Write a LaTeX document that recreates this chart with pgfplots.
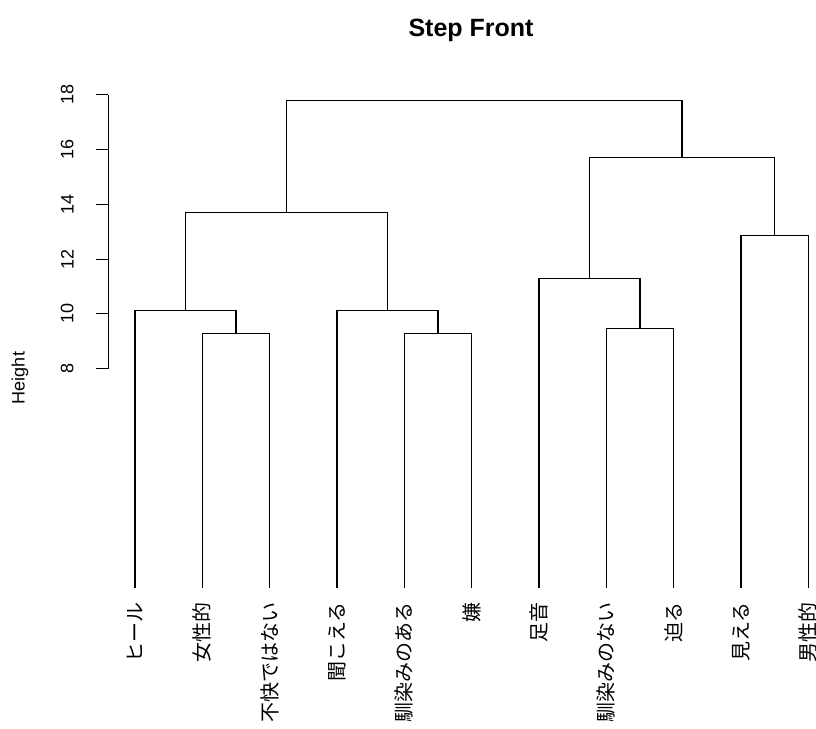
\documentclass[border=0pt]{standalone}
\usepackage{pgfplots}
\pgfplotsset{compat=1.18}
\usepackage{fontspec}
\setmainfont{Liberation Sans}
\newfontfamily\cjk{Noto Sans CJK JP}

\begin{document}
\begin{tikzpicture}
\begin{axis}[
  at={(108.1pt,128pt)}, anchor=south west,
  scale only axis, width=727.1pt, height=518.7pt,
  xmin=0.6, xmax=11.4, ymin=-0.45, ymax=18.5,
  axis x line*=bottom, axis y line*=left,
  x axis line style={draw=none}, y axis line style={draw=none},
  xtick={1,2,3,4,5,6,7,8,9,10,11},
  xticklabels={ヒール,女性的,不快ではない,聞こえる,馴染みのある,嫌,足音,馴染みのない,迫る,見える,男性的},
  xticklabel style={font=\cjk\fontsize{20}{20}\selectfont, rotate=90, anchor=east, inner sep=0pt},
  xticklabel shift=-10pt,
  major x tick style={draw=none},
  ytick={8,10,12,14,16,18},
  tick align=outside, major tick length=12pt,
  major y tick style={black, line width=1pt},
  yticklabel style={font=\fontsize{18}{18}\selectfont, rotate=90, anchor=south},
  yticklabel shift=19pt,
  /pgf/number format/assume math mode=true,
  clip=false,
]
\draw[black, line width=1pt] (axis cs:0.6,8) -- (axis cs:0.6,18);
\addplot[black, line width=1.1pt, no marks] coordinates {(2,0) (2,9.28) (3,9.28) (3,0)};
\addplot[black, line width=1.1pt, no marks] coordinates {(1,0) (1,10.11) (2.5,10.11) (2.5,9.28)};
\addplot[black, line width=1.1pt, no marks] coordinates {(5,0) (5,9.28) (6,9.28) (6,0)};
\addplot[black, line width=1.1pt, no marks] coordinates {(4,0) (4,10.11) (5.5,10.11) (5.5,9.28)};
\addplot[black, line width=1.1pt, no marks] coordinates {(1.75,10.11) (1.75,13.71) (4.75,13.71) (4.75,10.11)};
\addplot[black, line width=1.1pt, no marks] coordinates {(8,0) (8,9.46) (9,9.46) (9,0)};
\addplot[black, line width=1.1pt, no marks] coordinates {(7,0) (7,11.29) (8.5,11.29) (8.5,9.46)};
\addplot[black, line width=1.1pt, no marks] coordinates {(10,0) (10,12.87) (11,12.87) (11,0)};
\addplot[black, line width=1.1pt, no marks] coordinates {(7.75,11.29) (7.75,15.72) (10.5,15.72) (10.5,12.87)};
\addplot[black, line width=1.1pt, no marks] coordinates {(3.25,13.71) (3.25,17.79) (9.125,17.79) (9.125,15.72)};
\end{axis}
\node[font=\bfseries\fontsize{25}{25}\selectfont] at (471pt,698pt) {Step Front};
\node[rotate=90, font=\fontsize{18}{18}\selectfont] at (20pt,350pt) {Height};
\pgfresetboundingbox
\path[use as bounding box] (0pt,0pt) rectangle (816pt,728pt);
\end{tikzpicture}
\end{document}
